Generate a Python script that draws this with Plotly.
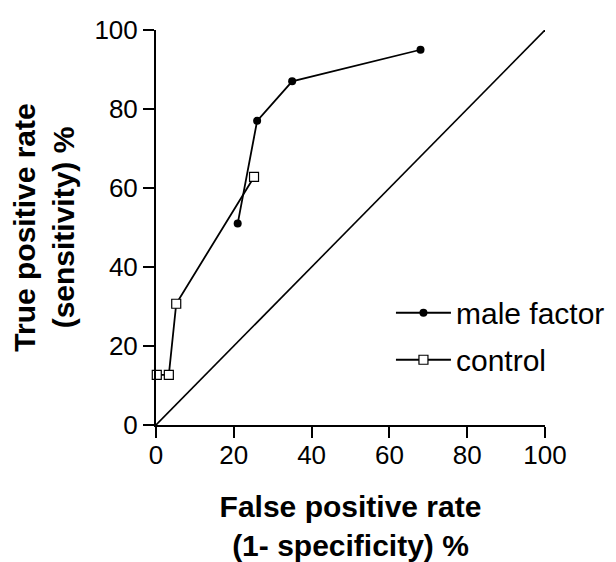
import plotly.graph_objects as go

male_fpr = [21, 26, 35, 68]
male_tpr = [51, 77, 87, 95]
control_fpr = [0.2, 3.3, 5.2, 25.2]
control_tpr = [12.7, 12.7, 30.7, 62.8]
diag = [0, 100]
ticks = [0, 20, 40, 60, 80, 100]

FONT = "Arial, Liberation Sans, Helvetica, sans-serif"

fig = go.Figure()
fig.add_trace(go.Scatter(x=diag, y=diag, mode="lines", line=dict(color="black", width=1.6),
                         showlegend=False, hoverinfo="skip"))
fig.add_trace(go.Scatter(x=male_fpr, y=male_tpr, mode="lines+markers", name="male factor",
                         legendgroup="a",
                         line=dict(color="black", width=1.8),
                         marker=dict(symbol="circle", size=8, color="black"),
                         cliponaxis=False))
fig.add_trace(go.Scatter(x=control_fpr, y=control_tpr, mode="lines+markers", name="control",
                         legendgroup="b",
                         line=dict(color="black", width=1.8),
                         marker=dict(symbol="square", size=9, color="white",
                                     line=dict(color="black", width=1.2)),
                         cliponaxis=False))

axis_common = dict(range=[0, 100], tickvals=ticks, ticks="outside", ticklen=11, tickwidth=2,
                   tickcolor="black", showline=True, linecolor="black", linewidth=2,
                   showgrid=False, zeroline=False, automargin=False,
                   tickfont=dict(family=FONT, size=26, color="black"))

fig.update_layout(
    width=616, height=554,
    margin=dict(l=148, r=79, t=22, b=137),
    plot_bgcolor="white", paper_bgcolor="white",
    font=dict(family=FONT, color="black"),
    xaxis=dict(**axis_common, ticklabelstandoff=-5,
               title=dict(text="<b>False positive rate<br>(1- specificity) %</b>",
                          font=dict(family=FONT, size=30, color="black"), standoff=37)),
    yaxis=dict(**axis_common,
               title=dict(text="<b>True positive rate<br>(sensitivity) %</b>",
                          font=dict(family=FONT, size=30, color="black"), standoff=16)),
    legend=dict(x=0.604, y=0.35, xanchor="left", yanchor="top", bgcolor="rgba(0,0,0,0)",
                font=dict(family=FONT, size=30, color="black"), itemwidth=55,
                tracegroupgap=5),
)

fig.write_html("out.html")
